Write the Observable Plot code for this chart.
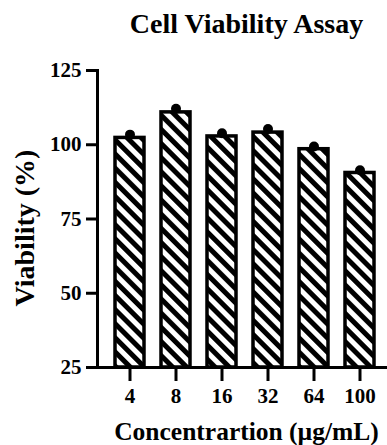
<!DOCTYPE html>
<html>
<head>
<meta charset="utf-8">
<script src="https://cdn.jsdelivr.net/npm/d3@7"></script>
<script src="https://cdn.jsdelivr.net/npm/@observablehq/plot@0.6"></script>
<style>
  html, body { margin: 0; padding: 0; background: #fff; }
  svg text { font-family: "Liberation Serif", "Times New Roman", serif; font-weight: bold; }
</style>
</head>
<body>
<div id="chart"></div>
<script>
const concentrations = ["4", "8", "16", "32", "64", "100"];
const viability = [102.3, 110.9, 102.8, 104.1, 98.5, 90.5];
const points = [103.4, 112.1, 103.9, 105.3, 99.4, 91.4];
const yTicks = [25, 50, 75, 100, 125];
const title = "Cell Viability Assay";
const xLabel = "Concentrartion (µg/mL)";
const yLabel = "Viability (%)";

const bars = concentrations.map((c, i) => ({c, v: viability[i]}));
const dots = concentrations.map((c, i) => ({c, v: points[i]}));
const serif = "Liberation Serif";

const svg = Plot.plot({
  width: 387,
  height: 445,
  marginTop: 70,
  marginBottom: 78,
  marginLeft: 97,
  marginRight: 0,
  style: {fontFamily: serif, fontWeight: "bold", fontSize: "21px", color: "#000", background: "#fff"},
  x: {domain: concentrations, range: [97, 393], paddingInner: 0.36, paddingOuter: 0.34},
  y: {domain: [25, 125]},
  marks: [
    Plot.barY(bars, {x: "c", y1: 25, y2: "v", fill: "url(#stripes)", stroke: "#000", strokeWidth: 3.5}),
    Plot.dot(dots, {x: "c", y: "v", r: 5, fill: "#000"}),
    Plot.frame({anchor: "left", stroke: "#000", strokeWidth: 3}),
    Plot.frame({anchor: "bottom", stroke: "#000", strokeWidth: 3}),
    Plot.axisY({ticks: yTicks, tickSize: 11, tickPadding: 5, strokeWidth: 3, stroke: "#000", label: null, fontSize: 21, fontFamily: serif, fontWeight: "bold"}),
    Plot.axisX({tickSize: 14, tickPadding: 7, strokeWidth: 3, stroke: "#000", label: null, fontSize: 21, fontFamily: serif, fontWeight: "bold"}),
    Plot.text([title], {frameAnchor: "top", textAnchor: "middle", lineAnchor: "middle", dy: -46, dx: 4, fontSize: 28, fontFamily: serif, fontWeight: "bold"}),
    Plot.text([xLabel], {frameAnchor: "bottom", textAnchor: "middle", lineAnchor: "middle", dy: 64, dx: 4, fontSize: 25.5, fontFamily: serif, fontWeight: "bold"}),
    Plot.text([yLabel], {frameAnchor: "left", textAnchor: "middle", lineAnchor: "middle", dx: -72, dy: 9, rotate: -90, fontSize: 28, fontFamily: serif, fontWeight: "bold"})
  ]
});

const defs = d3.select(svg).insert("defs", ":first-child");
const pat = defs.append("pattern")
  .attr("id", "stripes")
  .attr("patternUnits", "userSpaceOnUse")
  .attr("width", 10)
  .attr("height", 10)
  .attr("patternTransform", "rotate(-45)");
pat.append("rect").attr("width", 10).attr("height", 10).attr("fill", "#fff");
pat.append("rect").attr("width", 5).attr("height", 10).attr("fill", "#000");

document.getElementById("chart").appendChild(svg);
</script>
</body>
</html>
